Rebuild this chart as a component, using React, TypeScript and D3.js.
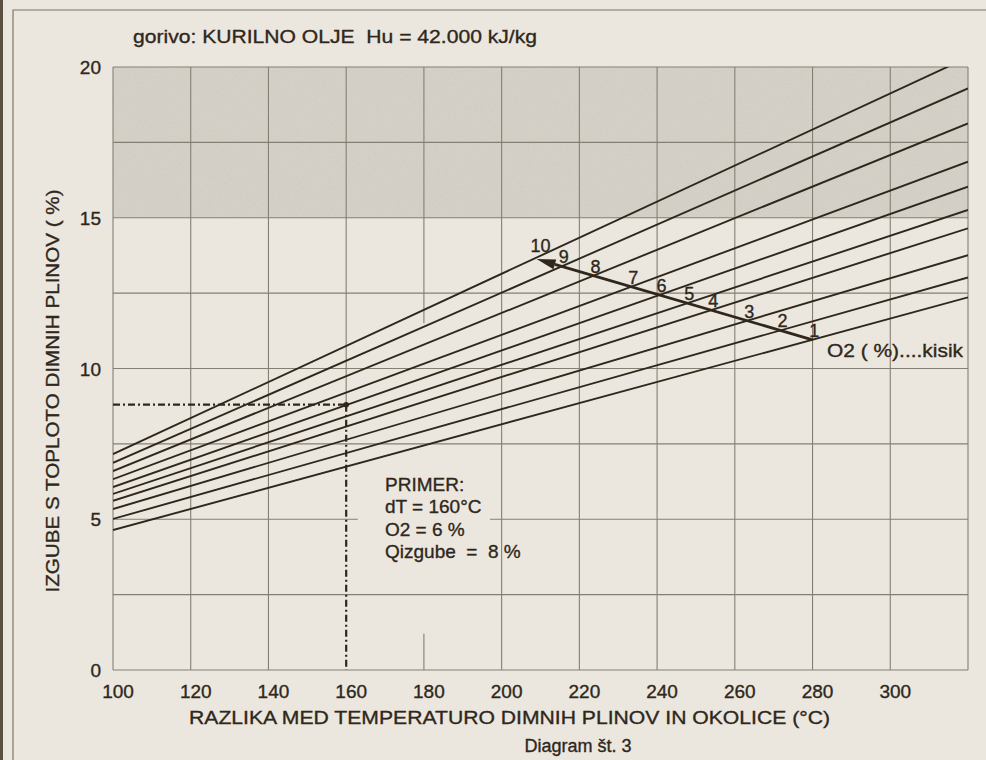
import { useEffect, useRef } from 'react'
import * as d3 from 'd3'

// O2 content of the flue gas (%), one line per value
const o2Levels = [1, 2, 3, 4, 5, 6, 7, 8, 9, 10]
// heat loss (%) at dT = 100 °C and dT = 320 °C
const lossAt100 = [4.64, 5.01, 5.34, 5.61, 5.84, 6.07, 6.33, 6.6, 6.87, 7.16]
const lossAt320 = [12.36, 13.02, 13.76, 14.65, 15.26, 16.03, 16.86, 18.13, 19.29, 20.32]

const xTicks = [100, 120, 140, 160, 180, 200, 220, 240, 260, 280, 300]
const xGrid = [100, 120, 140, 160, 180, 200, 220, 240, 260, 280, 300, 320]
const yTicks = [0, 5, 10, 15, 20]
const yGrid = [0, 2.5, 5, 7.5, 10, 12.5, 15, 17.5, 20]

// reading arrow across the lines (dT, loss)
const arrowFrom: [number, number] = [280, 10.95]
const arrowTo: [number, number] = [209, 13.63]

// worked example
const exampleDT = 160
const exampleLoss = 8.8
const primerLines = ['PRIMER:', 'dT = 160°C', 'O2 = 6 %', 'Qizgube  =  8 %']

const title = 'gorivo: KURILNO OLJE  Hu = 42.000 kJ/kg'
const xTitle = 'RAZLIKA MED TEMPERATURO DIMNIH PLINOV IN OKOLICE (°C)'
const yTitle = 'IZGUBE S TOPLOTO DIMNIH PLINOV ( %)'
const caption = 'Diagram št. 3'
const o2Label = 'O2 ( %)....kisik'

const INK = '#2f271c'
const GRID = '#857f73'
const PAPER = '#ebe7de'
const FONT = '"Liberation Sans", Arial, sans-serif'

export default function App() {
  const svgRef = useRef<SVGSVGElement>(null)

  useEffect(() => {
    if (!svgRef.current) return
    const svg = d3.select(svgRef.current)
    svg.selectAll('*').remove()

    const x = d3.scaleLinear().domain([100, 320]).range([113, 968])
    const y = d3.scaleLinear().domain([0, 20]).range([670, 67])

    svg.append('rect').attr('width', 986).attr('height', 760).attr('fill', PAPER)

    const defs = svg.append('defs')
    const noise = defs.append('filter').attr('id', 'noise')
      .attr('x', 0).attr('y', 0).attr('width', 1).attr('height', 1)
    noise.append('feTurbulence')
      .attr('type', 'fractalNoise')
      .attr('baseFrequency', 0.9)
      .attr('numOctaves', 2)
      .attr('stitchTiles', 'stitch')
    noise.append('feColorMatrix').attr('type', 'saturate').attr('values', 0)

    defs.append('clipPath').attr('id', 'plotClip')
      .append('rect')
      .attr('x', x(100)).attr('y', y(20))
      .attr('width', x(320) - x(100)).attr('height', y(0) - y(20))

    // page edge and frame
    svg.append('rect').attr('x', 0).attr('y', 0).attr('width', 3).attr('height', 760).attr('fill', '#5b4f3f')
    svg.append('path').attr('d', 'M13,760V10H986').attr('fill', 'none').attr('stroke', '#7d776b').attr('stroke-width', 1.2)

    // shaded band 15–20 %
    const band = { x: x(100), y: y(20), w: x(320) - x(100), h: y(15) - y(20) }
    svg.append('rect')
      .attr('x', band.x).attr('y', band.y).attr('width', band.w).attr('height', band.h)
      .attr('fill', '#d6d1c7')
    svg.append('rect')
      .attr('x', band.x).attr('y', band.y).attr('width', band.w).attr('height', band.h)
      .attr('filter', 'url(#noise)')
      .attr('opacity', 0.16)

    // grid
    const grid = svg.append('g').attr('stroke', GRID).attr('stroke-width', 1.1).attr('fill', 'none')
    grid.selectAll('line.v')
      .data(xGrid)
      .join('line')
      .attr('x1', d => x(d)).attr('x2', d => x(d))
      .attr('y1', d => (d === exampleDT ? y(exampleLoss) : d === 180 ? y(11.5) : y(0)))
      .attr('y2', y(20))
    grid.append('line')
      .attr('x1', x(180)).attr('x2', x(180))
      .attr('y1', y(0)).attr('y2', y(1.2))
    yGrid.forEach(v => {
      if (v === 5) {
        grid.append('line').attr('x1', x(100)).attr('x2', x(163)).attr('y1', y(v)).attr('y2', y(v))
        grid.append('line').attr('x1', x(197)).attr('x2', x(320)).attr('y1', y(v)).attr('y2', y(v))
      } else {
        grid.append('line').attr('x1', x(100)).attr('x2', x(320)).attr('y1', y(v)).attr('y2', y(v))
      }
    })

    // O2 lines
    const series = o2Levels.map((o2, i) => ({
      o2,
      pts: [[100, lossAt100[i]], [320, lossAt320[i]]] as [number, number][],
    }))
    const line = d3.line<[number, number]>().x(d => x(d[0])).y(d => y(d[1]))
    svg.append('g').attr('clip-path', 'url(#plotClip)')
      .selectAll('path')
      .data(series)
      .join('path')
      .attr('d', d => line(d.pts))
      .attr('fill', 'none')
      .attr('stroke', INK)
      .attr('stroke-width', 1.9)

    // example: dash-dot reading lines
    const dash = svg.append('g').attr('fill', 'none').attr('stroke', INK).attr('stroke-width', 2.2)
      .attr('stroke-dasharray', '7,3,2,3')
    dash.append('line')
      .attr('x1', x(100)).attr('x2', x(exampleDT))
      .attr('y1', y(exampleLoss)).attr('y2', y(exampleLoss))
    dash.append('line')
      .attr('x1', x(exampleDT)).attr('x2', x(exampleDT))
      .attr('y1', y(exampleLoss)).attr('y2', y(0))
    svg.append('circle').attr('cx', x(exampleDT)).attr('cy', y(exampleLoss)).attr('r', 2.8).attr('fill', INK)

    // arrow across the lines
    const [ax1, ay1] = [x(arrowFrom[0]), y(arrowFrom[1])]
    const [ax2, ay2] = [x(arrowTo[0]), y(arrowTo[1])]
    const ang = Math.atan2(ay2 - ay1, ax2 - ax1)
    const headLen = 19
    const headW = 5
    const bx = ax2 - headLen * Math.cos(ang)
    const by = ay2 - headLen * Math.sin(ang)
    svg.append('line')
      .attr('x1', ax1).attr('y1', ay1).attr('x2', bx).attr('y2', by)
      .attr('stroke', INK).attr('stroke-width', 2.8)
    svg.append('path')
      .attr('d', `M${ax2},${ay2}L${bx + headW * Math.sin(ang)},${by - headW * Math.cos(ang)}L${bx - headW * Math.sin(ang)},${by + headW * Math.cos(ang)}Z`)
      .attr('fill', INK)

    // labels where each O2 line crosses the arrow
    const m = (arrowTo[1] - arrowFrom[1]) / (arrowTo[0] - arrowFrom[0])
    const crossings = series.map((s, i) => {
      const slope = (lossAt320[i] - lossAt100[i]) / 220
      const t = (arrowFrom[1] - m * arrowFrom[0] - lossAt100[i] + slope * 100) / (slope - m)
      return { o2: s.o2, t, v: lossAt100[i] + slope * (t - 100) }
    })

    const txt = svg.append('g')
      .attr('font-family', FONT).attr('fill', INK)
      .attr('stroke', INK).attr('stroke-width', 0.35)

    txt.append('g')
      .attr('font-size', 18).attr('text-anchor', 'middle')
      .selectAll('text')
      .data(crossings)
      .join('text')
      .attr('x', d => x(d.t) + (d.o2 === 10 ? 6 : 2))
      .attr('y', d => y(d.v) - (d.o2 === 10 ? 6 : 3))
      .text(d => d.o2)

    txt.append('text')
      .attr('x', 827).attr('y', 357).attr('font-size', 18)
      .attr('textLength', 136).attr('lengthAdjust', 'spacingAndGlyphs')
      .text(o2Label)

    // axes labels
    txt.append('g').attr('font-size', 19).attr('text-anchor', 'end')
      .selectAll('text')
      .data(yTicks)
      .join('text')
      .attr('x', 101).attr('y', d => y(d) + 7)
      .text(d => d)
    txt.append('g').attr('font-size', 19).attr('text-anchor', 'middle')
      .selectAll('text')
      .data(xTicks)
      .join('text')
      .attr('x', d => x(d) + 5).attr('y', 698)
      .text(d => d)

    txt.append('text')
      .attr('x', 133).attr('y', 43).attr('font-size', 19)
      .attr('textLength', 404).attr('lengthAdjust', 'spacingAndGlyphs')
      .style('white-space', 'pre')
      .text(title)
    txt.append('text')
      .attr('x', 189).attr('y', 724).attr('font-size', 19)
      .attr('textLength', 641).attr('lengthAdjust', 'spacingAndGlyphs')
      .text(xTitle)
    txt.append('text')
      .attr('x', 578).attr('y', 752).attr('font-size', 18).attr('text-anchor', 'middle')
      .text(caption)
    txt.append('text')
      .attr('transform', 'translate(59,391) rotate(-90)')
      .attr('text-anchor', 'middle').attr('font-size', 19)
      .attr('textLength', 403).attr('lengthAdjust', 'spacingAndGlyphs')
      .text(yTitle)

    // worked example note
    txt.append('g').attr('font-size', 19)
      .selectAll('text')
      .data(primerLines)
      .join('text')
      .attr('x', 385).attr('y', (_, i) => 491 + i * 22.4)
      .style('white-space', 'pre')
      .text(d => d)
  }, [])

  return (
    <>
      <style>{'body{margin:0;background:' + PAPER + '}'}</style>
      <svg ref={svgRef} width={986} height={760} style={{ display: 'block' }} />
    </>
  )
}
